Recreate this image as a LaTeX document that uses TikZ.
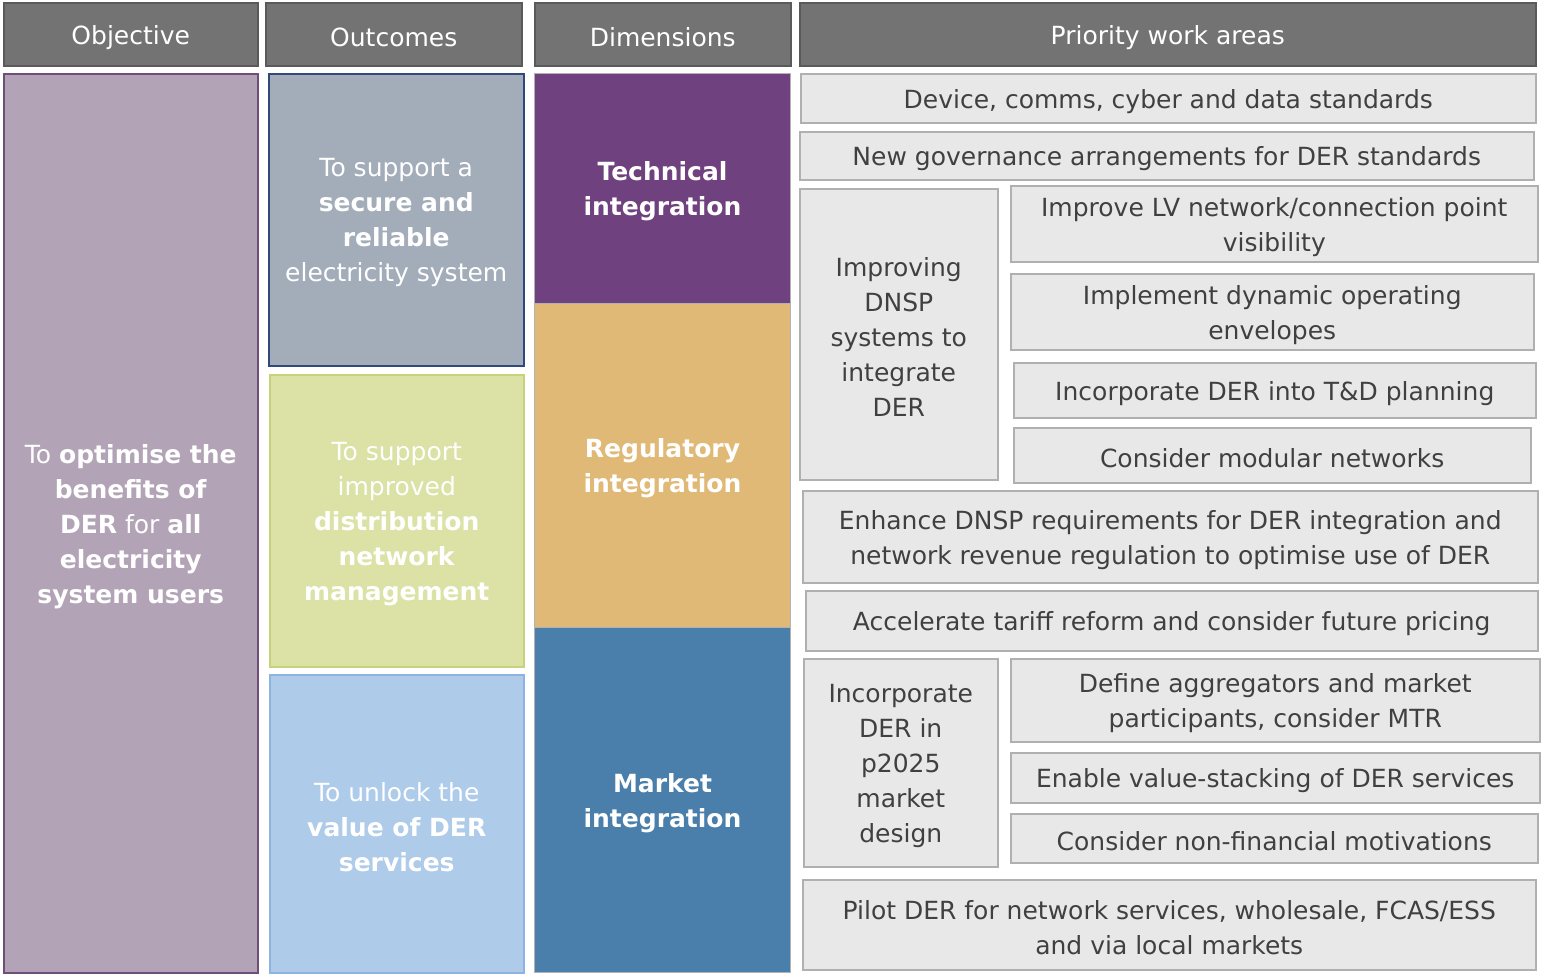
\documentclass[tikz,border=0pt]{standalone}
\usepackage{fontspec}
\setmainfont{DejaVu Sans}
\definecolor{hdr}{HTML}{737373}
\definecolor{hdrb}{HTML}{5A5A5A}
\definecolor{objf}{HTML}{B2A4B6}
\definecolor{objb}{HTML}{6F4F7A}
\definecolor{o1f}{HTML}{A3ACB9}
\definecolor{o1b}{HTML}{2F4A7A}
\definecolor{o2f}{HTML}{DCE2A6}
\definecolor{o2b}{HTML}{C8D27A}
\definecolor{o3f}{HTML}{AECBEA}
\definecolor{o3b}{HTML}{8DB4E0}
\definecolor{techf}{HTML}{6F417E}
\definecolor{regf}{HTML}{E0B977}
\definecolor{mktf}{HTML}{4A7EAB}
\definecolor{pf}{HTML}{E8E8E8}
\definecolor{pb}{HTML}{B0B0B0}
\definecolor{ptext}{HTML}{404040}
\newcommand\bx[7]{\node[#6, anchor=north west, inner sep=0pt, minimum width={(#4-#2)*1pt}, minimum height={(#5-#3)*1pt}] (#1) at (#2,#3) {};
\node[#6, draw=none, fill=none, inner sep=0pt, align=center, yshift=-3pt] (#1t) at (#1.center) {#7};}
\begin{document}
\begin{tikzpicture}[x=1pt,y=-1pt,
  every node/.style={font=\fontsize{25}{35}\selectfont},
  hd/.style={fill=hdr, draw=hdrb, line width=1.5pt, text=white},
  ob/.style={fill=objf, draw=objb, line width=1.5pt, text=white},
  oc1/.style={fill=o1f, draw=o1b, line width=1.5pt, text=white},
  oc2/.style={fill=o2f, draw=o2b, line width=1.5pt, text=white},
  oc3/.style={fill=o3f, draw=o3b, line width=1.5pt, text=white},
  dm/.style={draw=white!70!black, line width=1pt, text=white},
  pw/.style={fill=pf, draw=pb, line width=1.5pt, text=ptext}]
\path[use as bounding box] (0,0) rectangle (1544,977);
\fill[white] (0,0) rectangle (1544,977);
\bx{h1}{3}{2}{257}{65}{hd}{Objective}
\bx{h2}{265}{2}{521}{65}{hd}{Outcomes}
\bx{h3}{534}{2}{790}{65}{hd}{Dimensions}
\bx{h4}{799}{2}{1535}{65}{hd}{Priority work areas}
\bx{obj}{3}{73}{257}{972}{ob}{To \textbf{optimise the}\\\textbf{benefits of}\\\textbf{DER} for \textbf{all}\\\textbf{electricity}\\\textbf{system users}}
\bx{oc1}{268}{73}{523}{365}{oc1}{To support a\\\textbf{secure and}\\\textbf{reliable}\\electricity system}
\bx{oc2}{269}{374}{523}{666}{oc2}{To support\\improved\\\textbf{distribution}\\\textbf{network}\\\textbf{management}}
\bx{oc3}{269}{674}{523}{972}{oc3}{To unlock the\\\textbf{value of DER}\\\textbf{services}}
\bx{d1}{534}{73}{790}{303}{dm,fill=techf}{\textbf{Technical}\\\textbf{integration}}
\bx{d2}{534}{303}{790}{627}{dm,fill=regf}{\textbf{Regulatory}\\\textbf{integration}}
\bx{d3}{534}{627}{790}{972}{dm,fill=mktf}{\textbf{Market}\\\textbf{integration}}
\bx{p1}{800}{73}{1535}{122}{pw}{Device, comms, cyber and data standards}
\bx{p2}{799}{131}{1533}{179}{pw}{New governance arrangements for DER standards}
\bx{p3}{799}{188}{997}{479}{pw}{Improving\\DNSP\\systems to\\integrate\\DER}
\bx{p4}{1010}{185}{1537}{261}{pw}{Improve LV network/connection point\\visibility}
\bx{p5}{1010}{273}{1533}{349}{pw}{Implement dynamic operating\\envelopes}
\bx{p6}{1013}{362}{1535}{417}{pw}{Incorporate DER into T\&D planning}
\bx{p7}{1013}{427}{1530}{482}{pw}{Consider modular networks}
\bx{p8}{802}{490}{1537}{582}{pw}{Enhance DNSP requirements for DER integration and\\network revenue regulation to optimise use of DER}
\bx{p9}{805}{590}{1537}{650}{pw}{Accelerate tariff reform and consider future pricing}
\bx{p10}{803}{658}{997}{866}{pw}{Incorporate\\DER in\\p2025\\market\\design}
\bx{p11}{1010}{658}{1539}{741}{pw}{Define aggregators and market\\participants, consider MTR}
\bx{p12}{1010}{752}{1539}{802}{pw}{Enable value-stacking of DER services}
\bx{p13}{1010}{813}{1537}{862}{pw}{Consider non-financial motivations}
\bx{p14}{802}{879}{1535}{969}{pw}{Pilot DER for network services, wholesale, FCAS/ESS\\and via local markets}
\end{tikzpicture}
\end{document}
